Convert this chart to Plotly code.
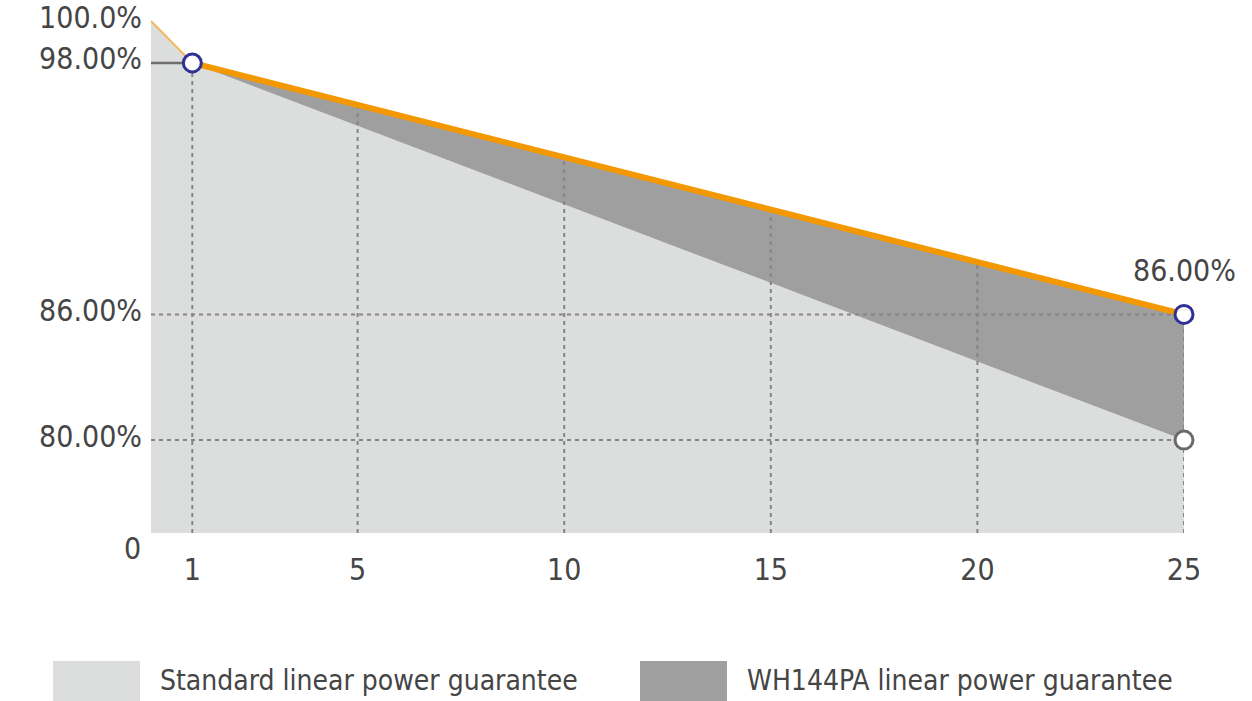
import numpy as np
import plotly.graph_objects as go

# ---- data -------------------------------------------------------------
std_years = [0, 1, 25]
std_pct = [100.0, 98.0, 80.0]          # standard linear power guarantee

wh_years = [0, 1, 25]
wh_pct = [100.0, 98.0, 86.0]           # WH144PA linear power guarantee

x_ticks = [1, 5, 10, 15, 20, 25]
y_ticks = [80.0, 86.0, 98.0, 100.0]
y_tick_text = ["80.00%", "86.00%", "98.00%", "100.0%"]
grid_levels = [80.0, 86.0]
end_label = "86.00%"
legend_names = ["Standard linear power guarantee", "WH144PA linear power guarantee"]

# ---- style ------------------------------------------------------------
W, H = 1252, 701
M_L, M_R, M_T, M_B = 151, 68, 20, 168
Y_RANGE = [75.566, 100.05]
X_RANGE = [0, 25]

LIGHT = "#dcdddd"
DARK = "#9f9f9f"
ORANGE = "#f39800"
ORANGE_SOFT = "#f4b860"
NAVY = "#2e3192"
GRID = "#858585"
TEXT = "#454545"
FONT = "Liberation Sans Narrow, DejaVu Sans Condensed, Arial Narrow, sans-serif"
TICK_SIZE = 30
LEGEND_SIZE = 28

plot_w = W - M_L - M_R
plot_h = H - M_T - M_B


def px_x(px):
    return (px - M_L) / plot_w


def px_y(py):
    return (H - M_B - py) / plot_h


fig = go.Figure()

# light area under the standard guarantee
fig.add_trace(go.Scatter(
    x=std_years, y=std_pct, mode="lines", fill="tozeroy",
    fillcolor=LIGHT, line=dict(width=0, color=LIGHT),
    hoverinfo="skip", showlegend=False))

# base for the band between the two guarantees (years 1..25)
fig.add_trace(go.Scatter(
    x=std_years[1:], y=std_pct[1:], mode="lines",
    line=dict(width=0, color=DARK), hoverinfo="skip", showlegend=False))
fig.add_trace(go.Scatter(
    x=wh_years[1:], y=wh_pct[1:], mode="lines", fill="tonexty",
    fillcolor=DARK, line=dict(width=0, color=DARK),
    hoverinfo="skip", showlegend=False))

# dotted grid: verticals rise to the WH144PA line, horizontals end at year 25
gx, gy = [], []
for t in x_ticks:
    gx += [t, t, None]
    gy += [Y_RANGE[0], float(np.interp(t, wh_years, wh_pct)), None]
for lv in grid_levels:
    gx += [X_RANGE[0], x_ticks[-1], None]
    gy += [lv, lv, None]
fig.add_trace(go.Scatter(
    x=gx, y=gy, mode="lines",
    line=dict(color=GRID, width=2, dash="4px,4px"),
    hoverinfo="skip", showlegend=False))

# short leader at the year-1 level
fig.add_trace(go.Scatter(
    x=[X_RANGE[0], wh_years[1]], y=[wh_pct[1], wh_pct[1]], mode="lines",
    line=dict(color="#6e6e6e", width=2.5), hoverinfo="skip", showlegend=False))

# thin start segment, then the heavy WH144PA line
fig.add_trace(go.Scatter(
    x=wh_years[:2], y=wh_pct[:2], mode="lines",
    line=dict(color=ORANGE_SOFT, width=2), hoverinfo="skip", showlegend=False))
fig.add_trace(go.Scatter(
    x=wh_years[1:], y=wh_pct[1:], mode="lines",
    line=dict(color=ORANGE, width=6), hoverinfo="skip", showlegend=False))

# end-point markers
fig.add_trace(go.Scatter(
    x=[wh_years[1], wh_years[2]], y=[wh_pct[1], wh_pct[2]], mode="markers",
    marker=dict(size=18, color="white", line=dict(color=NAVY, width=3)),
    cliponaxis=False, hoverinfo="skip", showlegend=False))
fig.add_trace(go.Scatter(
    x=[std_years[2]], y=[std_pct[2]], mode="markers",
    marker=dict(size=18, color="white", line=dict(color="#6a6a6a", width=3)),
    cliponaxis=False, hoverinfo="skip", showlegend=False))

# value label at the WH144PA end point
fig.add_annotation(
    x=wh_years[2], y=wh_pct[2], text=end_label, showarrow=False,
    xanchor="center", yanchor="bottom", yshift=24,
    font=dict(family=FONT, size=TICK_SIZE, color=TEXT))

# "0" at the bottom of the value axis
fig.add_annotation(
    x=0, y=0, xref="paper", yref="paper", text="0", showarrow=False,
    xanchor="right", yanchor="middle", xshift=-8, yshift=-15,
    font=dict(family=FONT, size=TICK_SIZE, color=TEXT))

# legend swatches and names
swatches = [(53, 140, 158, LIGHT), (640, 727, 745, DARK)]
for (x0, x1, tx, col), name in zip(swatches, legend_names):
    fig.add_shape(type="rect", xref="paper", yref="paper",
                  x0=px_x(x0), x1=px_x(x1), y0=px_y(701), y1=px_y(661),
                  fillcolor=col, line=dict(width=0), layer="above")
    fig.add_annotation(
        x=px_x(tx), y=px_y(680), xref="paper", yref="paper", text=name,
        showarrow=False, xanchor="left", yanchor="middle",
        font=dict(family=FONT, size=LEGEND_SIZE, color=TEXT))

fig.update_xaxes(
    range=X_RANGE, tickvals=x_ticks, ticktext=[str(t) for t in x_ticks],
    showgrid=False, zeroline=False, showline=False, ticks="",
    ticklabelstandoff=16, automargin=False,
    tickfont=dict(family=FONT, size=TICK_SIZE, color=TEXT), fixedrange=True)
fig.update_yaxes(
    range=Y_RANGE, tickvals=y_ticks, ticktext=y_tick_text,
    showgrid=False, zeroline=False, showline=False, ticks="",
    ticklabelstandoff=8, ticklabelshift=-4, ticklabeloverflow="allow",
    automargin=False,
    tickfont=dict(family=FONT, size=TICK_SIZE, color=TEXT), fixedrange=True)

fig.update_layout(
    width=W, height=H,
    margin=dict(l=M_L, r=M_R, t=M_T, b=M_B, autoexpand=False),
    paper_bgcolor="white", plot_bgcolor="white",
    showlegend=False,
)

fig.write_html("out.html")
